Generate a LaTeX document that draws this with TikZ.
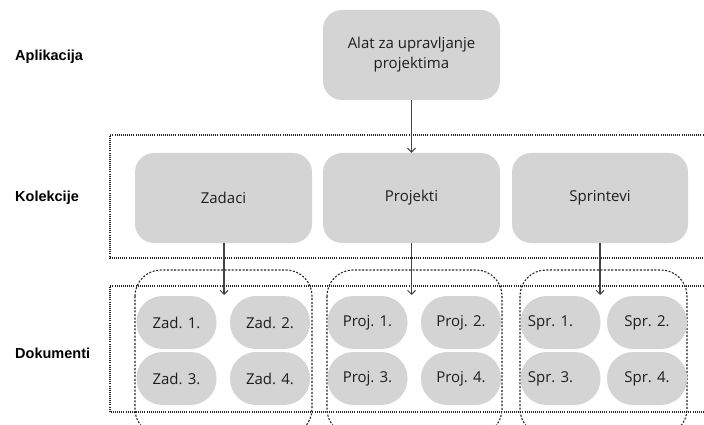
\documentclass[tikz,border=0pt]{standalone}
\usepackage{fontspec}
\setmainfont{Open Sans}
\newfontfamily\labelfont{Liberation Sans}
\usetikzlibrary{arrows.meta}
\definecolor{boxgray}{HTML}{D4D4D4}
\definecolor{txt}{HTML}{1E1E1E}
\definecolor{linec}{HTML}{444444}
\tikzset{
  bigbox/.style={rectangle, fill=boxgray, rounded corners=19pt, minimum width=177pt, minimum height=90pt, text=txt, font=\fontsize{15}{20}\selectfont, align=center, inner sep=0pt},
  pill/.style={rectangle, fill=boxgray, rounded corners=26pt, minimum width=80pt, minimum height=53pt, text=txt, font=\fontsize{15}{18}\selectfont, inner sep=0pt},
  levellabel/.style={anchor=west, text=black, font=\labelfont\bfseries\fontsize{14.5}{17}\selectfont, inner sep=0pt},
  layer/.style={draw=black!85, line width=1.1pt, dash pattern=on 1pt off 1.1pt},
  group/.style={draw=black!85, line width=1.1pt, dash pattern=on 2pt off 1.6pt, rounded corners=26pt},
  conn/.style={draw=linec, line width=1.3pt, -{Straight Barb[length=4pt,width=8pt,line width=1pt]}}
}
\begin{document}
\begin{tikzpicture}[x=1pt,y=-1pt]
\useasboundingbox (0,0) rectangle (704,425);
% layers
\draw[layer] (714,135) -- (110,135) -- (110,258) -- (714,258);
\draw[layer] (714,286) -- (110,286) -- (110,412) -- (714,412);
% groups
\draw[group] (135,270) rectangle (312,435);
\draw[group] (327,270) rectangle (502,435);
\draw[group] (520,270) rectangle (687,435);
% labels
\node[levellabel] (lapp) at (15,57) {Aplikacija};
\node[levellabel] (lkol) at (15,198) {Kolekcije};
\node[levellabel] (ldok) at (15,353) {Dokumenti};
% top
\node[bigbox] (app) at (411.5,55) {Alat za upravljanje\\projektima};
\node[bigbox] (zad) at (223.5,198) {Zadaci};
\node[bigbox] (proj) at (411.5,198) {Projekti};
\node[bigbox, minimum width=176pt] (spr) at (600,198) {Sprintevi};
% pills
\node[pill] (z1) at (176.5,322.5) {Zad. 1.};
\node[pill] (z2) at (270,322.5) {Zad. 2.};
\node[pill] (z3) at (176.5,378.5) {Zad. 3.};
\node[pill] (z4) at (270,378.5) {Zad. 4.};
\node[pill] (p1) at (367.5,322.5) {Proj. 1.};
\node[pill] (p2) at (461,322.5) {Proj. 2.};
\node[pill] (p3) at (367.5,378.5) {Proj. 3.};
\node[pill] (p4) at (461,378.5) {Proj. 4.};
\node[pill] (s1) at (560.5,322.5) {Spr. 1.\hspace*{20pt}};
\node[pill] (s2) at (647,322.5) {Spr. 2.};
\node[pill] (s3) at (560.5,378.5) {Spr. 3.\hspace*{20pt}};
\node[pill] (s4) at (647,378.5) {Spr. 4.};
% arrow ends
\coordinate (ze) at (224,295);
\coordinate (pe) at (411.5,295);
\coordinate (se) at (600,295);
% connectors
\draw[conn] (app.south) -- (proj.north);
\draw[conn] (zad.south -| ze) -- (ze);
\draw[conn] (proj.south) -- (pe);
\draw[conn] (spr.south) -- (se);
\end{tikzpicture}
\end{document}
